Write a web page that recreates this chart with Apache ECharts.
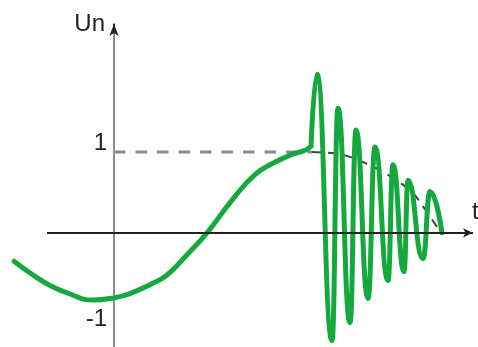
<!DOCTYPE html>
<html>
<head>
<meta charset="utf-8">
<script src="https://cdn.jsdelivr.net/npm/echarts@6/dist/echarts.min.js"></script>
<style>
html,body{margin:0;padding:0;background:#fff;}
#chart{width:478px;height:347px;}
</style>
</head>
<body>
<div id="chart"></div>
<script>
// ---- data (time t, voltage Un) ----
const smoothT = [-1.00, -0.81, -0.64, -0.47, -0.21, 0.01, 0.16, 0.36, 0.53, 0.73, 0.93, 1.19, 1.41, 1.59, 1.76, 1.91, 1.97];
const smoothU = [-0.35, -0.52, -0.65, -0.74, -0.83, -0.80, -0.75, -0.64, -0.52, -0.27, 0.00, 0.42, 0.72, 0.86, 0.96, 1.02, 1.07];

const burstT = [1.97, 2.03, 2.18, 2.24, 2.36, 2.42, 2.54, 2.61, 2.74, 2.79, 2.90, 2.94, 3.09, 3.16, 3.28];
const burstU = [1.07, 1.96, -1.33, 1.54, -1.11, 1.27, -0.81, 1.06, -0.59, 0.84, -0.48, 0.65, -0.32, 0.51, 0.00];

const levelT = [0.00, 1.98];
const levelU = [1.00, 1.00];

const envelopeT = [1.98, 2.13, 2.30, 2.48, 2.69, 2.86, 2.99, 3.06, 3.27];
const envelopeU = [1.00, 0.99, 0.96, 0.88, 0.75, 0.62, 0.49, 0.38, 0.00];

const yTickValues = [-1, 1];
const yAxisName = 'Un';
const xAxisName = 't';
const tAxisStart = -0.67;

const xMin = -1.14, xMax = 3.59;
const yMin = -1.41, yMax = 2.58;

const zip = (a, b) => a.map((v, i) => [v, b[i]]);
const green = '#15a83c';
const font = 'Liberation Sans, Arial, sans-serif';

const chart = echarts.init(document.getElementById('chart'), null, {renderer: 'canvas'});
chart.setOption({
  animation: false,
  backgroundColor: '#fff',
  grid: {left: 0, right: 5, top: 24, bottom: 0, containLabel: false, outerBoundsMode: 'none'},
  xAxis: {
    type: 'value', min: xMin, max: xMax,
    name: xAxisName, nameLocation: 'end', nameGap: -1,
    nameTextStyle: {fontFamily: font, fontSize: 24, color: '#222', align: 'left', verticalAlign: 'bottom', padding: [0, 0, 8, 0]},
    axisLine: {show: false, onZero: true},
    axisTick: {show: false}, axisLabel: {show: false}, splitLine: {show: false}
  },
  yAxis: {
    type: 'value', min: yMin, max: yMax, position: 'left', offset: -114,
    name: yAxisName, nameLocation: 'end', nameGap: -0.5,
    nameTextStyle: {fontFamily: font, fontSize: 24, color: '#222', align: 'right', verticalAlign: 'middle', padding: [0, 9, 0, 0]},
    axisLine: {show: true, onZero: false, lineStyle: {color: '#8c8c8c', width: 2}},
    axisTick: {show: false},
    axisLabel: {
      show: true, customValues: yTickValues, margin: 7,
      fontFamily: font, fontSize: 24, color: '#222',
      formatter: v => (v > 0 ? '{a|' + v + '}' : '{b|' + v + '}'),
      rich: {
        a: {fontFamily: font, fontSize: 24, color: '#222', padding: [0, 0, 17, 0]},
        b: {fontFamily: font, fontSize: 24, color: '#222', padding: [12, 0, 0, 0]}
      }
    },
    splitLine: {show: false}
  },
  series: [
    {
      type: 'line', data: zip(levelT, levelU), showSymbol: false, silent: true,
      lineStyle: {color: '#8a8a8a', width: 3, type: [11.5, 10]},
      markLine: {
        silent: true, symbol: ['none', 'arrow'], label: {show: false},
        lineStyle: {color: '#222', type: 'solid', width: 2},
        data: [
          [{coord: [0, yMax - 0.08], symbolSize: [7, 12]}, {coord: [0, yMax], symbolSize: [7, 12]}],
          [{coord: [tAxisStart, 0], symbolSize: [7, 10]}, {coord: [xMax, 0], symbolSize: [7, 10]}]
        ]
      }
    },
    {
      type: 'line', data: zip(envelopeT, envelopeU), showSymbol: false, silent: true, smooth: 0.4,
      lineStyle: {color: '#444', width: 2, type: [9, 7]}
    },
    {
      type: 'line', data: zip(smoothT, smoothU), showSymbol: false, silent: true, smooth: 0.5,
      lineStyle: {color: green, width: 5, cap: 'round', join: 'round'}
    },
    {
      type: 'line', data: zip(burstT, burstU), showSymbol: false, silent: true, smooth: 0.5, smoothMonotone: 'x',
      lineStyle: {color: green, width: 5, cap: 'round', join: 'round'}
    }
  ]
});
</script>
</body>
</html>
